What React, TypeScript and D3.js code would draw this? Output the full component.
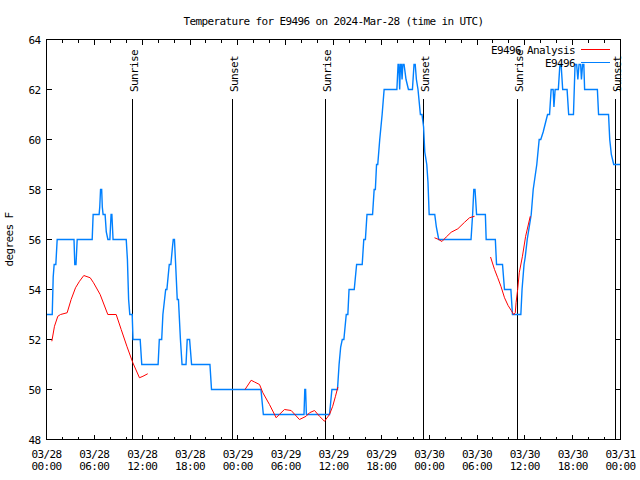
import React from 'react';
import * as d3 from 'd3';

const titleText = 'Temperature for E9496 on 2024-Mar-28 (time in UTC)';
const yAxisLabel = 'degrees F';

const xTickHours = [0, 6, 12, 18, 24, 30, 36, 42, 48, 54, 60, 66, 72];
const xTickDates = ['03/28', '03/28', '03/28', '03/28', '03/29', '03/29', '03/29', '03/29', '03/30', '03/30', '03/30', '03/30', '03/31'];
const xTickTimes = ['00:00', '06:00', '12:00', '18:00', '00:00', '06:00', '12:00', '18:00', '00:00', '06:00', '12:00', '18:00', '00:00'];
const yTicks = [48, 50, 52, 54, 56, 58, 60, 62, 64];

const sunEventHours = [10.85, 23.3, 34.95, 47.35, 59.03, 71.33];
const sunEventLabels = ['Sunrise', 'Sunset', 'Sunrise', 'Sunset', 'Sunrise', 'Sunset'];

const seriesNames = ['E9496 Analysis', 'E9496'];
const seriesColors = ['#ff0000', '#0080ff'];

// E9496 observations (hours since 03/28 00:00 UTC, degrees F)
const stationHours = [
  0, 0.72, 0.84, 0.96, 1.17, 1.34, 3.45, 3.55, 3.7, 3.85, 5.73, 5.85, 6.6, 6.68, 6.78, 6.92, 7.0, 7.1, 7.35, 7.5,
  7.7, 7.95, 8.1, 8.2, 8.35, 10.0, 10.15, 10.3, 10.45, 10.75, 10.85, 11.75, 11.95, 14.0, 14.15, 14.45, 14.6, 14.95, 15.1, 15.4,
  15.6, 15.8, 15.9, 16.05, 16.2, 16.4, 16.55, 16.8, 17.0, 17.5, 17.65, 17.95, 18.2, 20.5, 20.7, 26.9, 27.2, 32.3, 32.4, 32.5,
  32.6, 35.5, 35.8, 36.5, 36.7, 36.9, 37.1, 37.3, 37.6, 37.8, 37.95, 38.6, 38.9, 39.6, 39.8, 40.0, 40.2, 40.9, 41.1, 41.25,
  41.4, 41.55, 41.8, 42.1, 42.35, 43.95, 44.1, 44.2, 44.3, 44.4, 44.5, 44.6, 44.7, 44.85, 45.1, 45.4, 45.9, 46.1, 46.25, 46.4,
  46.6, 46.9, 47.1, 47.3, 47.45, 47.7, 47.85, 48.0, 48.7, 48.9, 49.2, 53.25, 53.45, 53.6, 53.75, 53.95, 55.05, 55.15, 56.3, 56.45,
  57.2, 57.45, 58.25, 58.45, 59.5, 59.65, 59.9, 60.05, 60.3, 60.8, 61.05, 61.5, 61.8, 62.0, 62.3, 62.85, 63.1, 63.3, 63.55, 63.65,
  63.8, 64.2, 64.4, 64.55, 64.75, 65.3, 65.5, 66.1, 66.3, 66.5, 66.65, 66.8, 67.0, 67.1, 67.25, 67.4, 67.5, 69.1, 69.25, 70.5,
  70.65, 70.85, 71.15, 72,
];
const stationTemps = [
  53, 53, 54.5, 55, 55, 56, 56, 55, 55, 56, 56, 57, 57, 57.3, 58, 58, 57.3, 57, 57, 56.3,
  56, 56, 57, 57, 56, 56, 55.2, 53.6, 53, 53, 52, 52, 51, 51, 52, 52, 53, 54, 54, 55,
  55, 55.7, 56, 56, 55, 53.6, 53.6, 52, 51, 51, 52, 52, 51, 51, 50, 50, 49, 49, 50, 50,
  49, 49, 50, 50, 51, 51.7, 52, 52, 53, 53, 54, 54, 55, 55, 56, 56, 57, 57, 58, 58,
  59, 59, 60, 61, 62, 62, 63, 63, 62, 63, 63, 62.4, 63, 63, 62.4, 62, 62, 63, 63, 62.4,
  62, 61, 61, 60.5, 59.5, 59, 58.3, 57, 57, 56.5, 56, 56, 57, 58, 58, 57, 57, 56, 56, 55,
  55, 54, 54, 53, 53, 54, 55, 55.3, 56, 57, 58, 59, 60, 60, 60.3, 61, 61, 62, 62, 61.3,
  62, 62, 63, 63, 62, 62, 61, 61, 63, 63, 62.4, 63, 63, 62.4, 63, 63, 62, 62, 61, 61,
  60, 59.4, 59, 59,
];

// E9496 Analysis (NaN separates the drawn pieces)
const analysisHours = [
  0.67, 1.0, 1.42, 1.76, 2.59, 3.09, 3.64, 4.14, 4.68, 5.48, 5.9, 6.73, 7.69, 8.74, 9.37, 10.08, 10.83, 11.66, 12.1, 12.7,
  18,
  24.9, 25.67, 26.1, 26.72, 27.14, 27.97, 28.81, 29.2, 29.85, 30.69, 31.73, 32.57, 32.99, 33.62, 34.24, 34.87, 35.5, 35.9, 36.25, 36.55,
  42,
  48.67, 49.2, 49.6, 50.14, 50.76, 51.6, 52.44, 53.06, 53.7,
  54.5,
  55.7, 56.2, 56.6, 57.0, 57.45, 57.9, 58.3, 58.6, 58.8, 58.9, 59.1, 59.3, 59.7, 60.1, 60.68,
];
const analysisTemps = [
  51.93, 52.53, 52.93, 53.0, 53.07, 53.6, 54.07, 54.33, 54.56, 54.47, 54.27, 53.8, 53.0, 53.0, 52.4, 51.73, 51.07, 50.47, 50.53, 50.63,
  NaN,
  50.0, 50.37, 50.3, 50.2, 49.87, 49.4, 48.87, 49.0, 49.2, 49.16, 48.8, 48.93, 49.07, 49.16, 48.93, 48.73, 49.0, 49.33, 49.73, 50.1,
  NaN,
  56.07, 56.0, 55.92, 56.1, 56.29, 56.43, 56.69, 56.87, 56.93,
  NaN,
  55.3, 54.8, 54.47, 54.13, 53.67, 53.36, 53.16, 53.0, 53.07, 53.47, 54.0, 54.67, 55.33, 56.13, 56.93,
];

const FONT = "'DejaVu Sans Mono', 'Liberation Mono', monospace";

export default function App() {
  const W = 640;
  const H = 480;
  const x = d3.scaleLinear().domain([0, 72]).range([46.5, 620.5]);
  const y = d3.scaleLinear().domain([48, 64]).range([439.5, 39.5]);

  const stationData: [number, number][] = stationHours.map((h, i) => [h, stationTemps[i]]);
  const analysisData: [number, number][] = analysisHours.map((h, i) => [h, analysisTemps[i]]);

  const line = d3
    .line<[number, number]>()
    .defined((d) => !isNaN(d[1]))
    .x((d) => x(d[0]))
    .y((d) => y(d[1]));

  const minorHours = d3.range(0, 73, 2).filter((h) => h % 6 !== 0);
  const [x0, x1] = x.range();
  const [yb, yt] = y.range();

  return (
    <div style={{ position: 'absolute', left: 0, top: 0, width: W, height: H, background: '#fff' }}>
      <svg width={W} height={H} style={{ display: 'block' }} fontFamily={FONT} fontSize={11} letterSpacing={-0.62}>
        <rect x={0} y={0} width={W} height={H} fill="#fff" />

        {/* ticks */}
        <g stroke="#000" strokeWidth={1} shapeRendering="crispEdges">
          {xTickHours.map((h) => (
            <g key={'xt' + h}>
              <line x1={x(h)} x2={x(h)} y1={yb} y2={yb - 5} />
              <line x1={x(h)} x2={x(h)} y1={yt} y2={yt + 5} />
            </g>
          ))}
          {minorHours.map((h) => (
            <g key={'xm' + h}>
              <line x1={x(h)} x2={x(h)} y1={yb} y2={yb - 3} />
              <line x1={x(h)} x2={x(h)} y1={yt} y2={yt + 3} />
            </g>
          ))}
          {yTicks.map((t) => (
            <g key={'yt' + t}>
              <line x1={x0} x2={x0 + 5} y1={y(t)} y2={y(t)} />
              <line x1={x1} x2={x1 - 5} y1={y(t)} y2={y(t)} />
            </g>
          ))}
        </g>

        {/* sunrise / sunset markers */}
        <g>
          {sunEventHours.map((h, i) => (
            <g key={'sun' + i}>
              <line x1={x(h)} x2={x(h)} y1={99} y2={yb} stroke="#000" strokeWidth={1} shapeRendering="crispEdges" />
              <text transform={`translate(${x(h) + 5.5},92) rotate(-90)`} textAnchor="start" fill="#000">
                {sunEventLabels[i]}
              </text>
            </g>
          ))}
        </g>

        {/* data */}
        <path d={line(stationData) || ''} fill="none" stroke={seriesColors[1]} strokeWidth={1.4} />
        <path d={line(analysisData) || ''} fill="none" stroke={seriesColors[0]} strokeWidth={1} />

        {/* frame */}
        <rect x={x0} y={yt} width={x1 - x0} height={yb - yt} fill="none" stroke="#000" strokeWidth={1} shapeRendering="crispEdges" />

        {/* tick labels */}
        <g fill="#000">
          {yTicks.map((t) => (
            <text key={'yl' + t} x={40.5} y={y(t) + 4} textAnchor="end">
              {t}
            </text>
          ))}
          {xTickHours.map((h, i) => (
            <g key={'xl' + h}>
              <text x={x(h)} y={457.5} textAnchor="middle">
                {xTickDates[i]}
              </text>
              <text x={x(h)} y={470} textAnchor="middle">
                {xTickTimes[i]}
              </text>
            </g>
          ))}
        </g>

        {/* axis label and title */}
        <text transform={`translate(12.5,${(yb + yt) / 2}) rotate(-90)`} textAnchor="middle" fill="#000">
          {yAxisLabel}
        </text>
        <text x={(x0 + x1) / 2} y={24.5} textAnchor="middle" fill="#000">
          {titleText}
        </text>

        {/* legend */}
        <g>
          {seriesNames.map((name, i) => (
            <g key={'lg' + i}>
              <text x={575} y={54 + i * 13} textAnchor="end" fill="#000">
                {name}
              </text>
              <line x1={581} x2={610} y1={49.5 + i * 13} y2={49.5 + i * 13} stroke={seriesColors[i]} strokeWidth={1} shapeRendering="crispEdges" />
            </g>
          ))}
        </g>
      </svg>
    </div>
  );
}
